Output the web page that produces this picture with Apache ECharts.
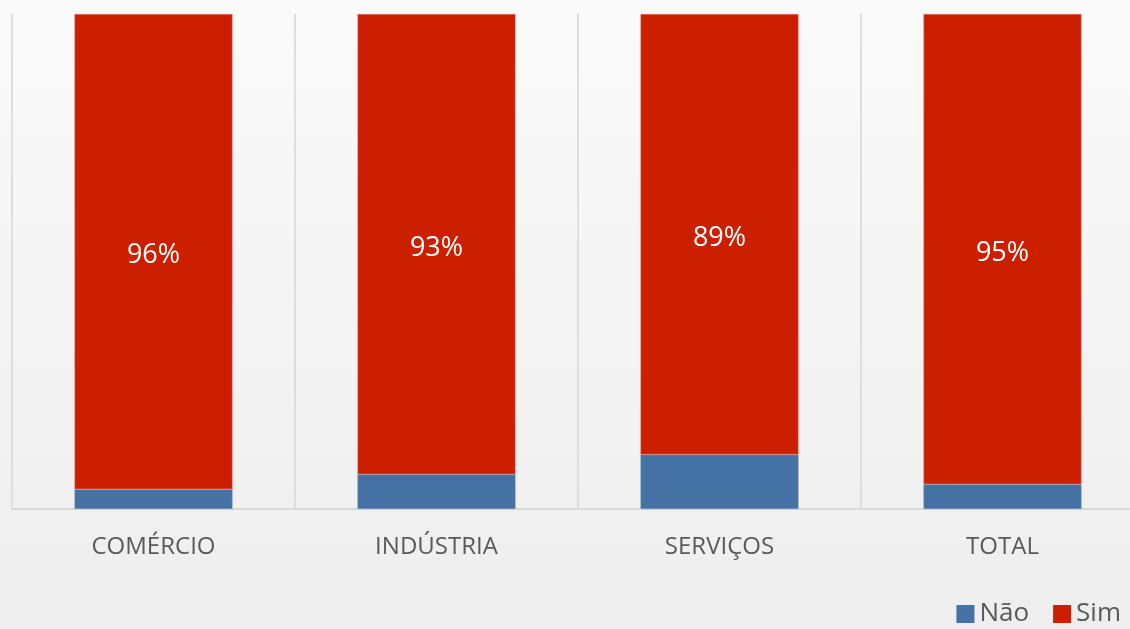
<!DOCTYPE html>
<html>
<head>
<meta charset="utf-8">
<script src="https://cdn.jsdelivr.net/npm/echarts@6/dist/echarts.min.js"></script>
<style>
  html, body { margin: 0; padding: 0; }
  #chart { width: 1130px; height: 629px; }
</style>
</head>
<body>
<div id="chart"></div>
<script>
const categories = ["COMÉRCIO", "INDÚSTRIA", "SERVIÇOS", "TOTAL"];
const naoValues = [4, 7, 11, 5];
const simValues = [96, 93, 89, 95];

const chart = echarts.init(document.getElementById("chart"));

const options = {
  backgroundColor: {
    type: "linear",
    x: 0, y: 0, x2: 0, y2: 1,
    colorStops: [
      { offset: 0, color: "#fafafa" },
      { offset: 1, color: "#eeeeee" },
    ],
  },
  textStyle: { fontFamily: "'Open Sans', sans-serif" },
  legend: {
    data: ["Não", "Sim"],
    right: 4,
    bottom: -3,
    itemWidth: 18,
    itemHeight: 18,
    itemGap: 24,
    icon: "rect",
    itemStyle: { borderWidth: 0 },
    textStyle: { fontSize: 26, color: "#595959" },
  },
  grid: {
    left: 12,
    top: 14,
    width: 1132,
    height: 495,
    outerBoundsMode: "none",
  },
  xAxis: {
    type: "category",
    data: categories,
    axisTick: { show: false },
    axisLine: { lineStyle: { color: "#d9d9d9", width: 2 } },
    splitLine: { show: true, lineStyle: { color: "#dedede", width: 2 } },
    axisLabel: { fontSize: 24, color: "#595959", margin: 26 },
  },
  yAxis: {
    type: "value",
    min: 0,
    max: 100,
    show: false,
  },
  series: [
    {
      name: "Não",
      type: "bar",
      stack: "total",
      barWidth: 158,
      data: naoValues,
      itemStyle: { color: "#4472a4", borderColor: "#7f9cc0", borderWidth: 0.5 },
    },
    {
      name: "Sim",
      type: "bar",
      stack: "total",
      barWidth: 158,
      data: simValues,
      itemStyle: { color: "#cc1f00", borderColor: "#e88070", borderWidth: 0.5 },
      label: {
        show: true,
        position: "inside",
        offset: [0, 4],
        formatter: "{c}%",
        color: "#ffffff",
        fontSize: 27,
      },
    },
  ],
};

chart.setOption(options);
</script>
</body>
</html>
